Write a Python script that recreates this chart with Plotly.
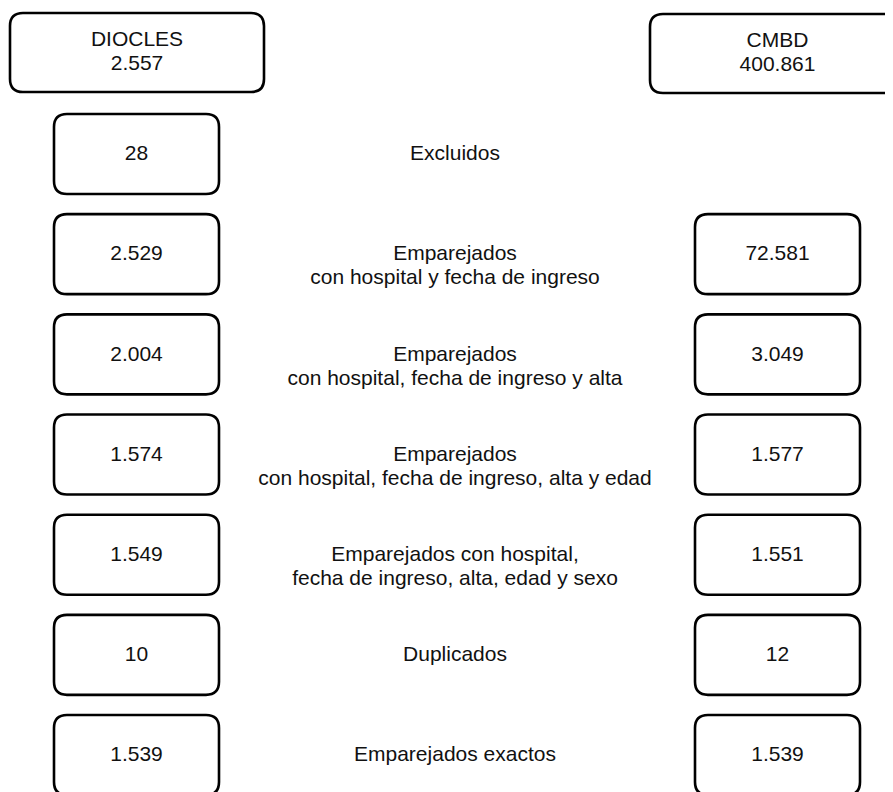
import plotly.graph_objects as go

# ---------------- data ----------------
sources = ["DIOCLES", "CMBD"]
source_totals = [2557, 400861]
stages = [
    "Excluidos",
    "Emparejados<br>con hospital y fecha de ingreso",
    "Emparejados<br>con hospital, fecha de ingreso y alta",
    "Emparejados<br>con hospital, fecha de ingreso, alta y edad",
    "Emparejados con hospital,<br>fecha de ingreso, alta, edad y sexo",
    "Duplicados",
    "Emparejados exactos",
]
diocles_counts = [28, 2529, 2004, 1574, 1549, 10, 1539]
cmbd_counts = [None, 72581, 3049, 1577, 1551, 12, 1539]

# ---------------- layout constants ----------------
W, H = 893, 792
OFF = 8  # default page body margin
FONT = "Liberation Sans, Arial, sans-serif"
FS = 21
LW = 2.6
R = 13

def fmt(v):
    return f"{v:,}".replace(",", ".")

def rounded_rect(x0, y0, x1, y1, r=R):
    return (f"M {x0+r},{y0} L {x1-r},{y0} Q {x1},{y0} {x1},{y0+r} "
            f"L {x1},{y1-r} Q {x1},{y1} {x1-r},{y1} L {x0+r},{y1} "
            f"Q {x0},{y1} {x0},{y1-r} L {x0},{y0+r} Q {x0},{y0} {x0+r},{y0} Z")

shapes = []
tx, ty, tt = [], [], []

def add_text(x, y, lines, gap=24):
    for i, ln in enumerate(lines):
        tx.append(x)
        ty.append(y + i * gap)
        tt.append(ln)

# top source boxes
top_boxes = [(10, 13, 264, 92), (650, 14, 905, 93)]
for (x0, y0, x1, y1), name, tot in zip(top_boxes, sources, source_totals):
    shapes.append(dict(type="path", path=rounded_rect(x0, y0, x1, y1),
                       line=dict(color="black", width=LW), fillcolor="white", layer="below"))
    cx, cy = (x0 + x1) / 2, (y0 + y1) / 2
    add_text(cx, cy - 12, [name, fmt(tot)])

LX0, LX1 = 54, 219
RX0, RX1 = 695, 860
MIDX = 455
ROW0, STEP, BH = 114, 100.17, 80

for i, (stage, dv, cv) in enumerate(zip(stages, diocles_counts, cmbd_counts)):
    y0 = ROW0 + STEP * i
    y1 = y0 + BH
    cy = (y0 + y1) / 2
    shapes.append(dict(type="path", path=rounded_rect(LX0, y0, LX1, y1),
                       line=dict(color="black", width=LW), fillcolor="white", layer="below"))
    add_text((LX0 + LX1) / 2, cy + 1, [fmt(dv)])
    if cv is not None:
        shapes.append(dict(type="path", path=rounded_rect(RX0, y0, RX1, y1),
                           line=dict(color="black", width=LW), fillcolor="white", layer="below"))
        add_text((RX0 + RX1) / 2, cy + 1, [fmt(cv)])
    add_text(MIDX, cy + 1, stage.split("<br>"))

fig = go.Figure()
fig.add_trace(go.Scatter(
    x=tx, y=ty, text=tt, mode="text", textposition="middle center",
    textfont=dict(family=FONT, size=FS, color="#111111"),
    hoverinfo="skip", showlegend=False,
))

fig.update_layout(
    width=W - OFF, height=H - OFF, autosize=False,
    margin=dict(l=0, r=0, t=0, b=0),
    paper_bgcolor="white", plot_bgcolor="white",
    shapes=shapes,
    xaxis=dict(range=[OFF, W], visible=False, fixedrange=True),
    yaxis=dict(range=[H, OFF], visible=False, fixedrange=True),
    showlegend=False,
)

fig.write_html("out.html", config={"displayModeBar": False})
